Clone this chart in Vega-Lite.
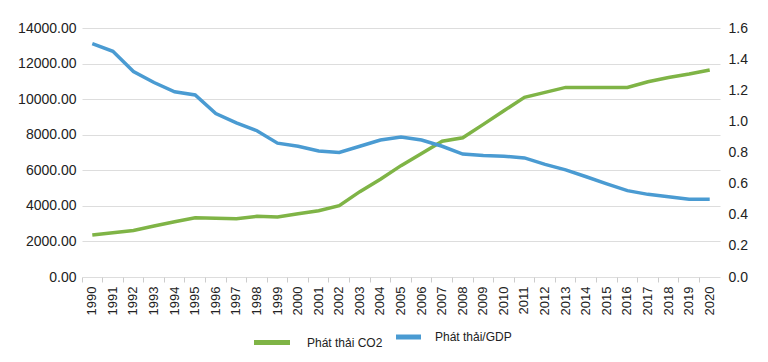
{
  "$schema": "https://vega.github.io/schema/vega-lite/v6.json",
  "autosize": {"type": "none"},
  "width": 638,
  "height": 249,
  "padding": {"left": 82, "top": 28, "right": 48, "bottom": 85},
  "background": "white",
  "config": {
    "view": {"stroke": null},
    "font": "Liberation Sans",
    "axis": {"labelFont": "Liberation Sans", "labelColor": "#222222", "titleFont": "Liberation Sans"},
    "legend": {"labelFont": "Liberation Sans", "labelFontSize": 12, "labelColor": "#222222", "symbolType": "stroke", "symbolStrokeWidth": 5}
  },
  "data": {
    "values": [
      {"year": "1990", "co2": 2360, "ratio": 1.50},
      {"year": "1991", "co2": 2490, "ratio": 1.45},
      {"year": "1992", "co2": 2620, "ratio": 1.32},
      {"year": "1993", "co2": 2870, "ratio": 1.25},
      {"year": "1994", "co2": 3110, "ratio": 1.19},
      {"year": "1995", "co2": 3330, "ratio": 1.17},
      {"year": "1996", "co2": 3300, "ratio": 1.05},
      {"year": "1997", "co2": 3280, "ratio": 0.99},
      {"year": "1998", "co2": 3410, "ratio": 0.94},
      {"year": "1999", "co2": 3370, "ratio": 0.86},
      {"year": "2000", "co2": 3560, "ratio": 0.84},
      {"year": "2001", "co2": 3730, "ratio": 0.81},
      {"year": "2002", "co2": 4010, "ratio": 0.80},
      {"year": "2003", "co2": 4800, "ratio": 0.84},
      {"year": "2004", "co2": 5500, "ratio": 0.88},
      {"year": "2005", "co2": 6260, "ratio": 0.90},
      {"year": "2006", "co2": 6950, "ratio": 0.88},
      {"year": "2007", "co2": 7630, "ratio": 0.84},
      {"year": "2008", "co2": 7830, "ratio": 0.79},
      {"year": "2009", "co2": 8580, "ratio": 0.78},
      {"year": "2010", "co2": 9350, "ratio": 0.776},
      {"year": "2011", "co2": 10100, "ratio": 0.765},
      {"year": "2012", "co2": 10380, "ratio": 0.724},
      {"year": "2013", "co2": 10660, "ratio": 0.688},
      {"year": "2014", "co2": 10660, "ratio": 0.644},
      {"year": "2015", "co2": 10660, "ratio": 0.598},
      {"year": "2016", "co2": 10660, "ratio": 0.555},
      {"year": "2017", "co2": 10980, "ratio": 0.531},
      {"year": "2018", "co2": 11220, "ratio": 0.516},
      {"year": "2019", "co2": 11410, "ratio": 0.50},
      {"year": "2020", "co2": 11640, "ratio": 0.50}
    ]
  },
  "encoding": {
    "x": {
      "field": "year",
      "type": "ordinal",
      "scale": {"type": "band", "paddingInner": 0, "paddingOuter": 0},
      "axis": {
        "title": null,
        "labelAngle": -90,
        "labelAlign": "right",
        "labelBaseline": "middle",
        "labelFontSize": 13,
        "labelPadding": 4,
        "domain": false,
        "ticks": true,
        "tickSize": 5,
        "tickColor": "#cccccc",
        "bandPosition": 0,
        "grid": false
      }
    }
  },
  "layer": [
    {
      "mark": {"type": "line", "strokeWidth": 3.5, "strokeCap": "butt"},
      "encoding": {
        "y": {
          "field": "co2",
          "type": "quantitative",
          "scale": {"domain": [0, 14000], "nice": false},
          "axis": {
            "title": null,
            "values": [0, 2000, 4000, 6000, 8000, 10000, 12000, 14000],
            "format": ".2f",
            "labelFontSize": 14,
            "labelPadding": 6,
            "ticks": false,
            "domain": false,
            "grid": true,
            "gridColor": "#dddddd",
            "gridWidth": 1
          }
        },
        "color": {
          "datum": "Phát thải CO2",
          "type": "nominal",
          "scale": {"domain": ["Phát thải CO2"], "range": ["#7fb446"]},
          "legend": {
            "title": null,
            "orient": "none",
            "direction": "horizontal",
            "legendX": 169.5,
            "legendY": 294,
            "symbolSize": 1296,
            "labelOffset": 14.5
          }
        }
      }
    },
    {
      "mark": {"type": "line", "strokeWidth": 3.5, "strokeCap": "butt"},
      "encoding": {
        "y": {
          "field": "ratio",
          "type": "quantitative",
          "scale": {"domain": [0, 1.6], "nice": false},
          "axis": {
            "title": null,
            "orient": "right",
            "values": [0, 0.2, 0.4, 0.6, 0.8, 1.0, 1.2, 1.4, 1.6],
            "format": ".1f",
            "labelFontSize": 14,
            "labelPadding": 8,
            "ticks": false,
            "domain": false,
            "grid": false
          }
        },
        "color": {
          "datum": "Phát thải/GDP",
          "type": "nominal",
          "scale": {"domain": ["Phát thải/GDP"], "range": ["#4a9bd2"]},
          "legend": {
            "title": null,
            "orient": "none",
            "direction": "horizontal",
            "legendX": 311.5,
            "legendY": 294,
            "symbolSize": 625,
            "labelOffset": 11.5
          }
        }
      }
    }
  ],
  "resolve": {"scale": {"y": "independent", "color": "independent"}}
}
